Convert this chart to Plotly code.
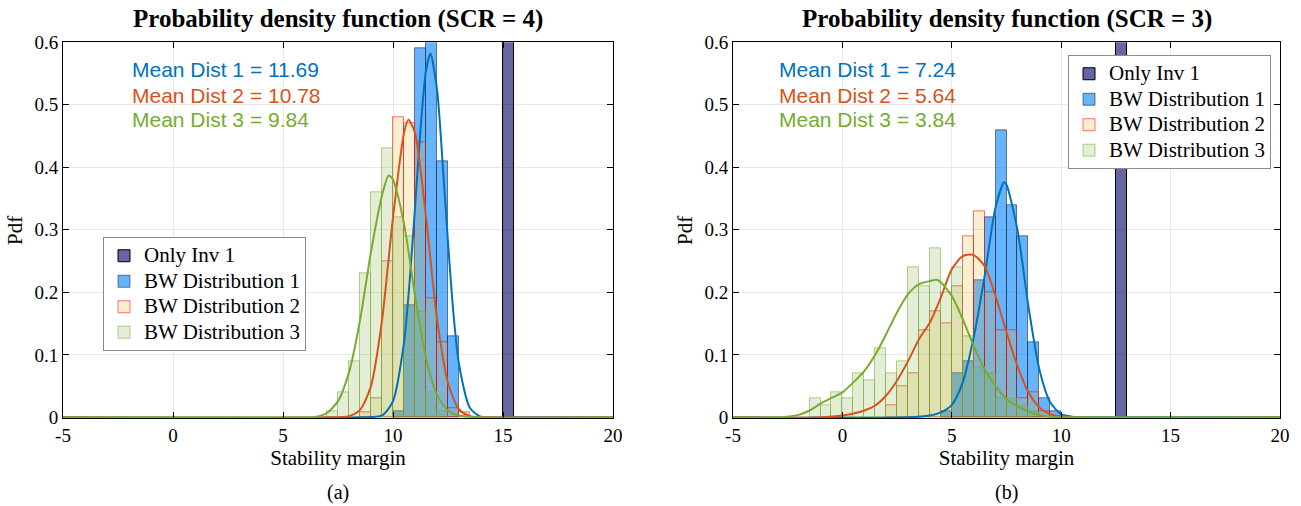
import plotly.graph_objects as go

BIN_W = 0.5
SERIF = "Liberation Serif"
SANS = "Liberation Sans"

series_names = ["Only Inv 1", "BW Distribution 1", "BW Distribution 2", "BW Distribution 3"]
x_tick_vals = [-5, 0, 5, 10, 15, 20]
x_tick_text = ["-5", "0", "5", "10", "15", "20"]
y_tick_vals = [0, 0.1, 0.2, 0.3, 0.4, 0.5, 0.6]
y_tick_text = ["0", "0.1", "0.2", "0.3", "0.4", "0.5", "0.6"]

# ---------- Panel (a): SCR = 4 ----------
a_title = "Probability density function (SCR = 4)"
a_inv_edges = [15.0]
a_inv_pdf = [2.0]
a_d1_edges = [10.0, 10.5, 11.0, 11.5, 12.0, 12.5]
a_d1_pdf = [0.01, 0.18, 0.59, 0.65, 0.41, 0.13]
a_d2_edges = [8.5, 9.0, 9.5, 10.0, 10.5, 11.0, 11.5, 12.0, 12.5, 13.0]
a_d2_pdf = [0.008, 0.03, 0.25, 0.48, 0.47, 0.44, 0.19, 0.12, 0.015, 0.008]
a_d3_edges = [7.0, 7.5, 8.0, 8.5, 9.0, 9.5, 10.0, 10.5, 11.0, 11.5, 12.0]
a_d3_pdf = [0.01, 0.04, 0.09, 0.23, 0.36, 0.43, 0.32, 0.29, 0.17, 0.04, 0.01]

a_fit1_x = [-5, 8.5, 9.5, 10.0, 10.5, 10.75, 11.0, 11.25, 11.5, 11.7, 12.0, 12.25, 12.5, 12.75, 13.0, 13.5, 14.0, 15.0, 20]
a_fit1_y = [0, 0, 0.003, 0.026, 0.12, 0.215, 0.335, 0.46, 0.555, 0.582, 0.525, 0.41, 0.28, 0.165, 0.085, 0.015, 0.001, 0, 0]
a_fit2_x = [-5, 7.0, 8.0, 8.5, 9.0, 9.5, 10.0, 10.5, 10.7, 11.0, 11.5, 12.0, 12.5, 13.0, 13.5, 14.5, 20]
a_fit2_y = [0, 0, 0.002, 0.012, 0.05, 0.155, 0.32, 0.455, 0.476, 0.455, 0.32, 0.158, 0.055, 0.013, 0.002, 0, 0]
a_fit3_x = [-5, 5.5, 6.5, 7.0, 7.5, 8.0, 8.5, 9.0, 9.5, 9.8, 10.0, 10.5, 11.0, 11.5, 12.0, 12.5, 13.0, 14.0, 20]
a_fit3_y = [0, 0, 0.001, 0.007, 0.026, 0.072, 0.155, 0.265, 0.355, 0.387, 0.38, 0.31, 0.195, 0.095, 0.036, 0.011, 0.003, 0, 0]
a_means = ["Mean Dist 1 = 11.69", "Mean Dist 2 = 10.78", "Mean Dist 3 = 9.84"]

# ---------- Panel (b): SCR = 3 ----------
b_title = "Probability density function (SCR = 3)"
b_inv_edges = [12.5]
b_inv_pdf = [2.0]
b_d1_edges = [4.5, 5.0, 5.5, 6.0, 6.5, 7.0, 7.5, 8.0, 8.5, 9.0, 9.5]
b_d1_pdf = [0.01, 0.07, 0.09, 0.22, 0.32, 0.46, 0.34, 0.29, 0.12, 0.03, 0.01]
b_d2_edges = [2.0, 2.5, 3.0, 3.5, 4.0, 4.5, 5.0, 5.5, 6.0, 6.5, 7.0, 7.5, 8.0, 8.5, 9.0]
b_d2_pdf = [0.02, 0.05, 0.07, 0.14, 0.17, 0.15, 0.21, 0.29, 0.33, 0.20, 0.14, 0.14, 0.03, 0.04, 0.01]
b_d3_edges = [-1.5, -1.0, -0.5, 0.0, 0.5, 1.0, 1.5, 2.0, 2.5, 3.0, 3.5, 4.0, 4.5, 5.0, 5.5, 6.0, 6.5, 7.0, 7.5, 8.0, 8.5]
b_d3_pdf = [0.03, 0.02, 0.04, 0.03, 0.07, 0.06, 0.11, 0.07, 0.09, 0.24, 0.21, 0.27, 0.20, 0.24, 0.13, 0.08, 0.07, 0.03, 0.03, 0.02, 0.01]

b_fit1_x = [-5, 3.0, 4.0, 4.5, 5.0, 5.5, 6.0, 6.5, 7.0, 7.39, 7.5, 8.0, 8.5, 9.0, 9.5, 10.0, 10.5, 11.5, 20]
b_fit1_y = [0, 0, 0.003, 0.008, 0.02, 0.056, 0.128, 0.226, 0.336, 0.376, 0.372, 0.30, 0.178, 0.077, 0.024, 0.005, 0.001, 0, 0]
b_fit2_x = [-5, -1.0, 0.0, 1.0, 1.5, 2.0, 2.5, 3.0, 3.5, 4.0, 4.5, 5.0, 5.5, 5.98, 6.5, 7.0, 7.5, 8.0, 8.5, 9.0, 9.5, 10.5, 20]
b_fit2_y = [0, 0, 0.003, 0.011, 0.019, 0.035, 0.059, 0.09, 0.125, 0.152, 0.192, 0.237, 0.258, 0.26, 0.242, 0.194, 0.136, 0.082, 0.04, 0.016, 0.005, 0, 0]
b_fit3_x = [-5, -3.0, -2.0, -1.5, -1.0, -0.5, 0.0, 0.5, 1.0, 1.5, 2.0, 2.5, 3.0, 3.5, 4.0, 4.31, 4.5, 5.0, 5.5, 6.0, 6.5, 7.0, 7.5, 8.0, 8.5, 9.0, 9.5, 10.5, 20]
b_fit3_y = [0, 0, 0.004, 0.011, 0.022, 0.031, 0.04, 0.056, 0.074, 0.10, 0.133, 0.168, 0.197, 0.213, 0.218, 0.22, 0.216, 0.194, 0.157, 0.114, 0.077, 0.05, 0.029, 0.018, 0.009, 0.004, 0.001, 0, 0]
b_means = ["Mean Dist 1 = 7.24", "Mean Dist 2 = 5.64", "Mean Dist 3 = 3.84"]

# ---------- styles ----------
bar_fill = ["rgba(0,0,102,0.6)", "rgba(0,128,255,0.6)", "rgba(237,177,32,0.2)", "rgba(119,172,48,0.2)"]
bar_edge = ["rgba(0,0,0,1)", "rgba(30,30,30,0.55)", "rgba(255,0,0,0.55)", "rgba(119,172,48,0.55)"]
fit_colors = ["#0072BD", "#D95319", "#77AC30"]

W, H = 1301, 506
ax_top, ax_bot = 42.3, 418.3
panels = [
    dict(xa="x", ya="y", leg="legend", x0=63, x1=613, title=a_title, cap="(a)",
         bars=[(a_inv_edges, a_inv_pdf), (a_d1_edges, a_d1_pdf), (a_d2_edges, a_d2_pdf), (a_d3_edges, a_d3_pdf)],
         fits=[(a_fit1_x, a_fit1_y), (a_fit2_x, a_fit2_y), (a_fit3_x, a_fit3_y)],
         means=a_means, mean_x=130, leg_x=103, leg_y=237),
    dict(xa="x2", ya="y2", leg="legend2", x0=733, x1=1280, title=b_title, cap="(b)",
         bars=[(b_inv_edges, b_inv_pdf), (b_d1_edges, b_d1_pdf), (b_d2_edges, b_d2_pdf), (b_d3_edges, b_d3_pdf)],
         fits=[(b_fit1_x, b_fit1_y), (b_fit2_x, b_fit2_y), (b_fit3_x, b_fit3_y)],
         means=b_means, mean_x=777, leg_x=1068, leg_y=55),
]

fig = go.Figure()
annotations = []
layout_axes = {}
for i, p in enumerate(panels):
    for k, (edges, pdf) in enumerate(p["bars"]):
        centers = [e + BIN_W / 2 for e in edges]
        fig.add_trace(go.Bar(
            x=centers, y=pdf, width=BIN_W,
            name='<span style="font-size:21px">' + series_names[k] + "</span>",
            marker=dict(color=bar_fill[k], line=dict(color=bar_edge[k], width=1)),
            xaxis=p["xa"], yaxis=p["ya"], legend=p["leg"], hoverinfo="skip"))
    for k, (fx, fy) in enumerate(p["fits"]):
        fig.add_trace(go.Scatter(
            x=fx, y=fy, mode="lines", showlegend=False, hoverinfo="skip",
            line=dict(color=fit_colors[k], width=2, shape="spline", smoothing=0.7),
            xaxis=p["xa"], yaxis=p["ya"]))
    sfx = "" if i == 0 else "2"
    axis_common = dict(ticks="inside", ticklen=6, tickcolor="black", tickwidth=1,
                       showline=True, linecolor="black", linewidth=1, mirror="ticks",
                       showgrid=True, gridcolor="#e8e8e8", gridwidth=1, zeroline=False,
                       automargin=False,
                       tickfont=dict(family=SERIF, size=19, color="black"))
    layout_axes["xaxis" + sfx] = dict(
        axis_common, domain=[p["x0"] / W, p["x1"] / W], range=[-5, 20],
        tickvals=x_tick_vals, ticktext=x_tick_text, anchor="y" + sfx,
        title=dict(text="Stability margin", font=dict(family=SERIF, size=21, color="black"), standoff=4))
    layout_axes["yaxis" + sfx] = dict(
        axis_common, domain=[(H - ax_bot) / H, (H - ax_top) / H], range=[-0.0015, 0.6],
        tickvals=y_tick_vals, ticktext=y_tick_text, anchor="x" + sfx,
        title=dict(text="Pdf", font=dict(family=SERIF, size=21, color="black"), standoff=6))
    layout_axes[p["leg"]] = dict(
        x=p["leg_x"] / W, y=(H - p["leg_y"]) / H, xanchor="left", yanchor="top",
        bgcolor="white", bordercolor="#8a8a8a", borderwidth=1,
        font=dict(family=SERIF, size=17.3, color="black"), tracegroupgap=0)
    cx = (p["x0"] + p["x1"]) / 2 / W
    annotations.append(dict(text="<b>" + p["title"] + "</b>", x=cx, y=(H - 19) / H, xref="paper", yref="paper",
                            showarrow=False, xanchor="center", yanchor="middle",
                            font=dict(family=SERIF, size=25, color="black")))
    annotations.append(dict(text=p["cap"], x=cx, y=(H - 492) / H, xref="paper", yref="paper",
                            showarrow=False, xanchor="center", yanchor="middle",
                            font=dict(family=SERIF, size=20, color="black")))
    for k, (txt, yy) in enumerate(zip(p["means"], [70, 95.5, 120])):
        annotations.append(dict(text=txt, x=p["mean_x"] / W, y=(H - yy) / H, xref="paper", yref="paper",
                                showarrow=False, xanchor="left", yanchor="middle",
                                font=dict(family=SANS, size=21, color=fit_colors[k])))

fig.update_layout(
    width=W, height=H, margin=dict(l=0, r=0, t=0, b=0, pad=0, autoexpand=False),
    paper_bgcolor="white", plot_bgcolor="white",
    barmode="overlay", bargap=0, annotations=annotations, **layout_axes)

fig.write_html("out.html")
